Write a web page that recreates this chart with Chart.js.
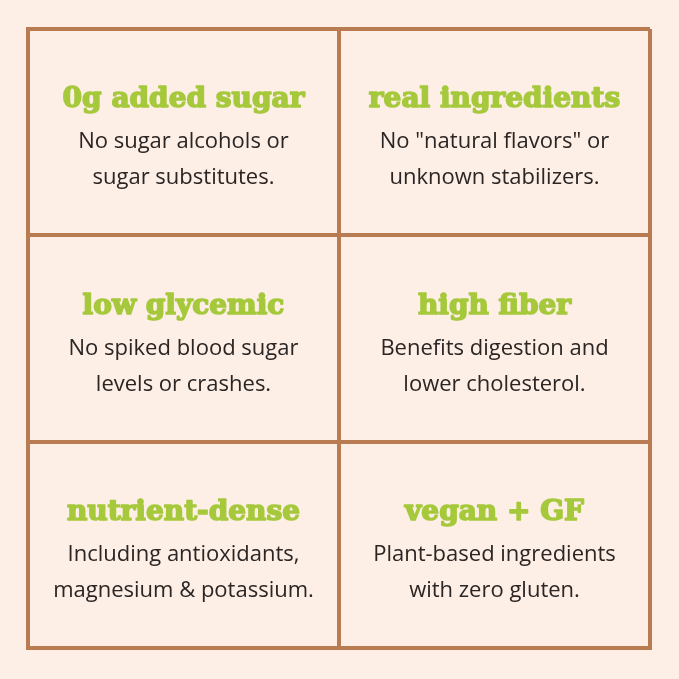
<!DOCTYPE html>
<html><head><meta charset="utf-8">
<script src="https://cdn.jsdelivr.net/npm/chart.js@4"></script>
<style>html,body{margin:0;padding:0;background:#fdeee6;}canvas{display:block}</style>
</head><body>
<div style="width:679px;height:679px"><canvas id="c"></canvas></div>
<script>
const titles = ["0g added sugar","real ingredients","low glycemic","high fiber","nutrient-dense","vegan + GF"];
const line1 = ["No sugar alcohols or","No \"natural flavors\" or","No spiked blood sugar","Benefits digestion and","Including antioxidants,","Plant-based ingredients"];
const line2 = ["sugar substitutes.","unknown stabilizers.","levels or crashes.","lower cholesterol.","magnesium & potassium.","with zero gluten."];
const cols = [0.5,1.5,0.5,1.5,0.5,1.5];
const rows = [2.5,2.5,1.5,1.5,0.5,0.5];
const textPlugin = {
  id:'cellText',
  afterDatasetsDraw(chart){
    const ctx = chart.ctx, x = chart.scales.x, y = chart.scales.y;
    ctx.save(); ctx.textAlign='center'; ctx.textBaseline='middle';
    for(let i=0;i<titles.length;i++){
      const cx = x.getPixelForValue(cols[i]);
      const top = y.getPixelForValue(rows[i]+0.5);
      ctx.fillStyle='#a6c93c'; ctx.strokeStyle='#a6c93c'; ctx.lineWidth=1.6; ctx.lineJoin='round';
      ctx.font='bold 28px "DejaVu Serif"';
      ctx.strokeText(titles[i],cx,top+71);
      ctx.fillText(titles[i],cx,top+71);
      ctx.fillStyle='#2b2624'; ctx.font='22px "Open Sans"';
      ctx.fillText(line1[i],cx,top+113);
      ctx.fillText(line2[i],cx,top+149);
    }
    ctx.restore();
  }
};
new Chart(document.getElementById('c'),{
  type:'scatter',
  data:{datasets:[{data:cols.map((c,i)=>({x:c,y:rows[i]})),pointRadius:0}]},
  options:{
    responsive:true,maintainAspectRatio:false,animation:false,
    layout:{padding:{left:28,right:29,top:29,bottom:31}},
    plugins:{legend:{display:false},tooltip:{enabled:false}},
    scales:{
      x:{min:0,max:2,ticks:{display:false,stepSize:1},grid:{color:'#b97b52',lineWidth:4,drawTicks:false},border:{color:'#b97b52',width:4}},
      y:{min:0,max:3,ticks:{display:false,stepSize:1},grid:{color:'#b97b52',lineWidth:4,drawTicks:false},border:{color:'#b97b52',width:4}}
    }
  },
  plugins:[textPlugin]
});
</script></body></html>
